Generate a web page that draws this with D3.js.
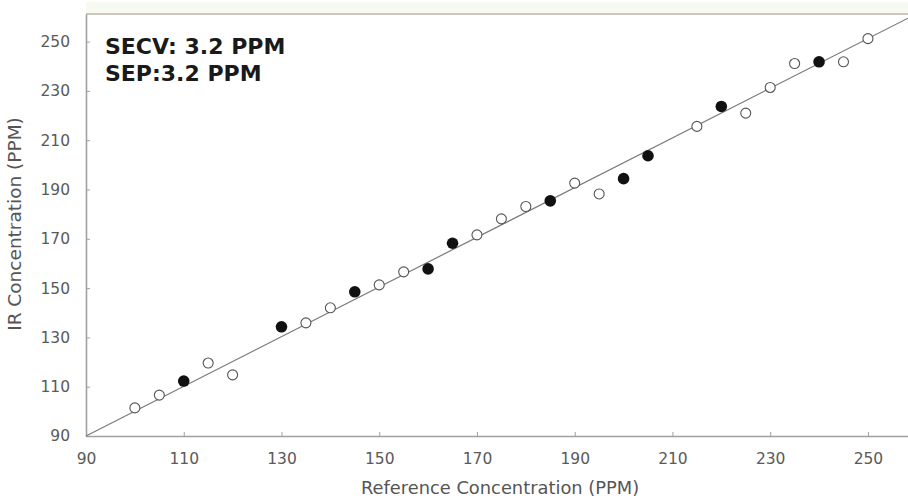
<!DOCTYPE html>
<html>
<head>
<meta charset="utf-8">
<script src="https://cdn.jsdelivr.net/npm/d3@7"></script>
<style>
  body { margin: 0; background: #fff; }
  svg { display: block; }
</style>
</head>
<body>
<div id="chart"></div>
<script>
// calibration set (open circles)
const calX = [100, 105, 115, 120, 135, 140, 150, 155, 170, 175, 180, 190, 195, 215, 225, 230, 235, 245, 250];
const calY = [101.4, 106.6, 119.6, 114.8, 135.9, 142, 151.3, 156.6, 171.6, 178.1, 183.1, 192.6, 188.2, 215.6, 221, 231.4, 241.1, 241.8, 251.2];
// validation set (filled circles)
const valX = [110, 130, 145, 160, 165, 185, 200, 205, 220, 240];
const valY = [112.3, 134.3, 148.5, 157.8, 168.2, 185.4, 194.4, 203.7, 223.7, 241.8];
// fitted line end points
const fitX = [90, 258.2];
const fitY = [90, 259.5];
const tickValues = [90, 110, 130, 150, 170, 190, 210, 230, 250];
const notes = ["SECV: 3.2 PPM", "SEP:3.2 PPM"];

const width = 908, height = 502;
const margin = {top: 14, right: 0, bottom: 66, left: 86};

const x = d3.scaleLinear().domain([90, 258.2]).range([margin.left, width - margin.right]);
const y = d3.scaleLinear().domain([90, 261.2]).range([height - margin.bottom, margin.top]);

const svg = d3.select("#chart").append("svg")
    .attr("width", width)
    .attr("height", height);

// faint band and frame line along the top
svg.append("rect")
    .attr("x", margin.left).attr("y", 2)
    .attr("width", width - margin.left).attr("height", margin.top - 3)
    .attr("fill", "#f6faf0");
svg.append("line")
    .attr("x1", margin.left).attr("x2", width)
    .attr("y1", margin.top).attr("y2", margin.top)
    .attr("stroke", "#cdc8be").attr("stroke-width", 2);

const xAxis = svg.append("g")
    .attr("transform", `translate(0,${height - margin.bottom})`)
    .call(d3.axisBottom(x).tickValues(tickValues).tickSizeInner(-4).tickSizeOuter(0).tickPadding(17));
const yAxis = svg.append("g")
    .attr("transform", `translate(${margin.left},0)`)
    .call(d3.axisLeft(y).tickValues(tickValues).tickSizeInner(-4).tickSizeOuter(0).tickPadding(16));

[xAxis, yAxis].forEach(g => {
  g.select(".domain").attr("stroke", "#a0a0a0").attr("stroke-width", 1.6);
  g.selectAll(".tick line").attr("stroke", "#a0a0a0");
  g.selectAll(".tick text")
      .attr("fill", "#5a5a5a")
      .style("font", "15.5px 'DejaVu Sans', sans-serif");
});

// fitted line
svg.append("line")
    .attr("x1", x(fitX[0])).attr("y1", y(fitY[0]))
    .attr("x2", x(fitX[1])).attr("y2", y(fitY[1]))
    .attr("stroke", "#7a7a7a").attr("stroke-width", 1.2);

svg.append("g").selectAll("circle")
  .data(calX.map((d, i) => [d, calY[i]]))
  .join("circle")
    .attr("cx", d => x(d[0]))
    .attr("cy", d => y(d[1]))
    .attr("r", 5)
    .attr("fill", "#fff")
    .attr("stroke", "#555")
    .attr("stroke-width", 1.1);

svg.append("g").selectAll("circle")
  .data(valX.map((d, i) => [d, valY[i]]))
  .join("circle")
    .attr("cx", d => x(d[0]))
    .attr("cy", d => y(d[1]))
    .attr("r", 5.8)
    .attr("fill", "#111");

// axis titles
svg.append("text")
    .attr("transform", "translate(500,494) scale(1.05,1)")
    .attr("text-anchor", "middle")
    .attr("fill", "#555")
    .style("font", "17px 'DejaVu Sans', sans-serif")
    .text("Reference Concentration (PPM)");

svg.append("text")
    .attr("transform", "translate(21,224) rotate(-90)")
    .attr("text-anchor", "middle")
    .attr("fill", "#555")
    .style("font", "18.5px 'DejaVu Sans', sans-serif")
    .text("IR Concentration (PPM)");

// error notes
svg.append("g").selectAll("text")
  .data(notes)
  .join("text")
    .attr("x", 105)
    .attr("y", (d, i) => 54 + i * 27)
    .attr("fill", "#1a1a1a")
    .style("font", "bold 22px 'DejaVu Sans', sans-serif")
    .text(d => d);
</script>
</body>
</html>
